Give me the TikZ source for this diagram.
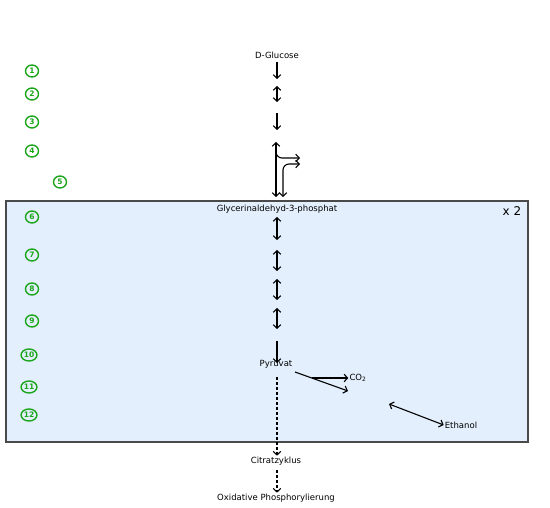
\documentclass[tikz,border=0pt]{standalone}
\usepackage{fontspec}
\setmainfont{DejaVu Sans}
\usepackage{xcolor}
\usepackage{tikz}
\usetikzlibrary{arrows.meta, shapes.geometric}

\definecolor{boxblue}{HTML}{E3EFFC}
\definecolor{boxline}{HTML}{4A4A4A}
\definecolor{stepgreen}{HTML}{1BA51B}

\tikzset{
    stoff/.style={font=\fontsize{8.5}{10}\selectfont, inner sep=1pt},
    nummer/.style={ellipse, draw=stepgreen, line width=1.4pt, text=stepgreen,
        font=\fontsize{7.5}{8}\selectfont\bfseries, inner sep=0.4pt, minimum width=13pt, minimum height=12pt},
    pfeil/.style={line width=1.1pt},
    gestrichelt/.style={line width=1.1pt, dash pattern=on 3pt off 2pt}
}

\begin{document}
\begin{tikzpicture}[x=1pt, y=-1pt, >={Straight Barb[length=3.5pt, width=7.5pt]}]
    \useasboundingbox[fill=white] (0,0) rectangle (550,508);

    % 1. Kasten (x 2)
    \draw[boxline, fill=boxblue, line width=1.3pt] (6,201) rectangle (528,442);
    \node[font=\fontsize{12}{14}\selectfont] (mal2) at (512,211) {x 2};

    % 2. Stoffe
    \node[stoff] (glc) at (277,55) {D-Glucose};
    \node[stoff] (gap) at (277,209) {Glycerinaldehyd-3-phosphat};
    \node[stoff] (pyr) at (276,364) {Pyruvat};
    \node[stoff] (co2) at (358,378) {CO\textsubscript{2}};
    \node[stoff] (eth) at (461,425) {Ethanol};
    \node[stoff] (cit) at (276,461) {Citratzyklus};
    \node[stoff] (oxp) at (276,498) {Oxidative Phosphorylierung};

    % 3. Nummern der Reaktionsschritte
    \foreach \n/\x/\y in {1/32/71, 2/32/94, 3/32/122, 4/32/151, 5/60/182,
                          6/32/217, 7/32/255, 8/32/289, 9/32/321,
                          10/29/355, 11/29/387, 12/29/415} {
        \node[nummer] (n\n) at (\x,\y) {\n};
    }

    % 4. Einfache Pfeile
    \coordinate (p1a) at (277,62);  \coordinate (p1b) at (277,79);
    \coordinate (p3a) at (277,113); \coordinate (p3b) at (277,130);
    \coordinate (p10a) at (277,341); \coordinate (p10b) at (277,363);
    \draw[pfeil, ->] (p1a) -- (p1b);
    \draw[pfeil, ->] (p3a) -- (p3b);
    \draw[pfeil, ->] (p10a) -- (p10b);

    % 5. Doppelpfeile
    \foreach \a/\b in {86/102, 217/240, 250/271, 279/300, 308/329} {
        \coordinate (d\a) at (277,\a);
        \coordinate (e\a) at (277,\b);
        \draw[pfeil, <->] (d\a) -- (e\a);
    }

    % 6. Schritt 4 und 5 (Verzweigung)
    \coordinate (v4o) at (276,142);
    \coordinate (v4u) at (276,197);
    \coordinate (v5u) at (283,197);
    \coordinate (ab4) at (276,148);
    \coordinate (z4) at (300,158);
    \coordinate (z5) at (300,164);
    \draw[pfeil, <->] (v4o) -- (v4u);
    \draw[pfeil, ->, rounded corners=6pt] (ab4) |- (z4);
    \draw[pfeil, <->, rounded corners=6pt] (v5u) |- (z5);

    % 7. Pyruvat -> CO2 und Ethanol
    \coordinate (py1) at (295,372);
    \coordinate (py2) at (348,391);
    \coordinate (py3) at (312,378);
    \coordinate (et1) at (389,404);
    \draw[pfeil, ->] (py1) -- (py2);
    \draw[pfeil, ->] (py3) -- (co2.west);
    \draw[pfeil, <->] (et1) -- (eth.west);

    % 8. Gestrichelte Pfeile
    \draw[gestrichelt, ->] (277,377) -- (cit.north -| 277,0);
    \draw[gestrichelt, ->] (cit.south -| 277,0) ++(0,4) -- (oxp.north -| 277,0);
\end{tikzpicture}
\end{document}
